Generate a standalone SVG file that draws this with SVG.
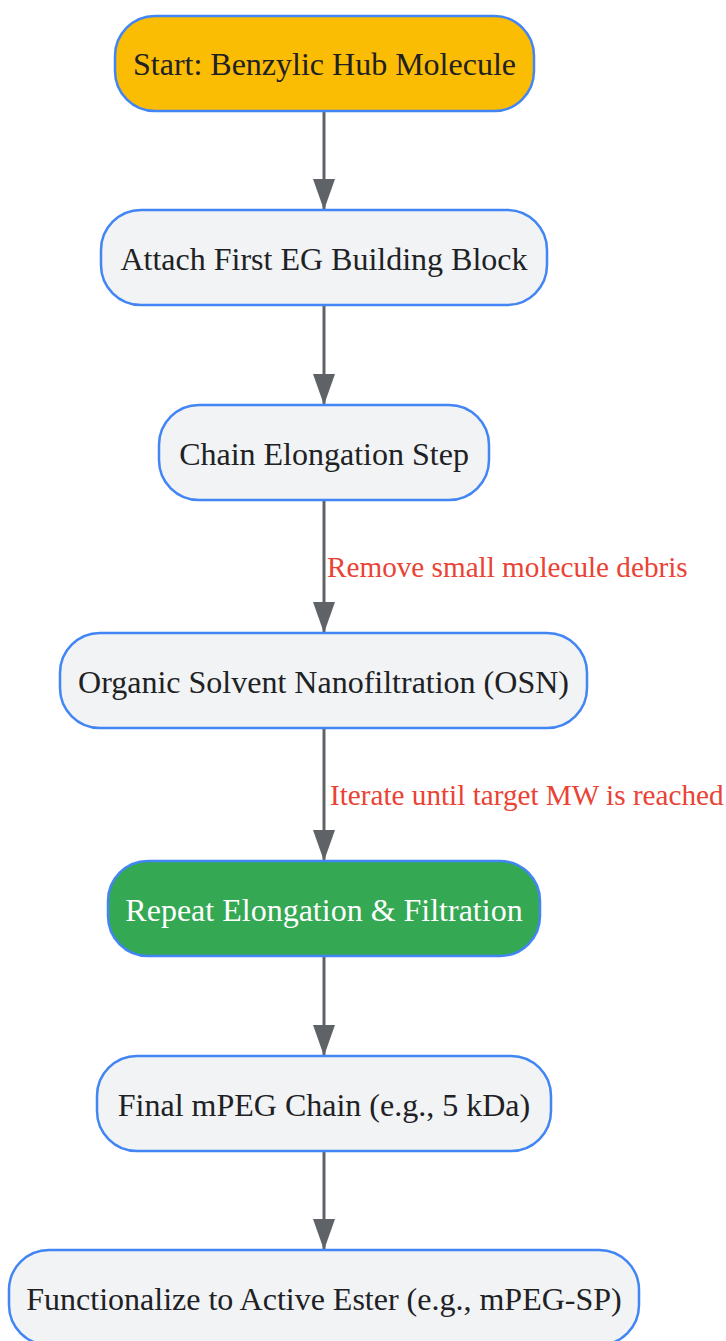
<svg xmlns="http://www.w3.org/2000/svg" width="726" height="1341" viewBox="0 0 726 1341">
<defs>
<style>
.n{stroke:#4285f4;stroke-width:2.5}
.t{font-family:"Liberation Serif",serif;font-size:32px;fill:#202124;text-anchor:middle}
.l{font-family:"Liberation Serif",serif;font-size:29.2px;fill:#ea4335}
.e{stroke:#5f6368;stroke-width:3;fill:none;marker-end:url(#ah)}
</style>
<marker id="ah" markerUnits="userSpaceOnUse" markerWidth="31" markerHeight="22" refX="31" refY="11" orient="auto" viewBox="0 0 31 22">
<path d="M0,0 L31,11 L0,22 Z" fill="#5f6368"/>
</marker>
</defs>
<rect width="726" height="1341" fill="#ffffff"/>
<g id="connectors">
<line class="e" x1="324" y1="111" x2="324" y2="210"/>
<line class="e" x1="324" y1="305" x2="324" y2="405"/>
<line class="e" x1="324" y1="500" x2="324" y2="633"/>
<line class="e" x1="324" y1="728" x2="324" y2="861"/>
<line class="e" x1="324" y1="956" x2="324" y2="1056"/>
<line class="e" x1="324" y1="1151" x2="324" y2="1250"/>
<text class="l" x="327" y="577">Remove small molecule debris</text>
<text class="l" x="330" y="805">Iterate until target MW is reached</text>
</g>
<g id="n1"><rect class="n" x="115" y="16" width="419" height="95" rx="40" fill="#fbbc04"/><text class="t" x="324.5" y="75">Start: Benzylic Hub Molecule</text></g>
<g id="n2"><rect class="n" x="101" y="210" width="446" height="95" rx="40" fill="#f1f3f4"/><text class="t" x="324" y="270">Attach First EG Building Block</text></g>
<g id="n3"><rect class="n" x="159" y="405" width="330" height="95" rx="40" fill="#f1f3f4"/><text class="t" x="324" y="465">Chain Elongation Step</text></g>
<g id="n4"><rect class="n" x="60" y="633" width="527" height="95" rx="40" fill="#f1f3f4"/><text class="t" x="323.5" y="693">Organic Solvent Nanofiltration (OSN)</text></g>
<g id="n5"><rect class="n" x="108" y="861" width="432" height="95" rx="40" fill="#34a853"/><text class="t" x="324" y="921" style="fill:#ffffff">Repeat Elongation &amp; Filtration</text></g>
<g id="n6"><rect class="n" x="97" y="1056" width="454" height="95" rx="40" fill="#f1f3f4"/><text class="t" x="324" y="1116">Final mPEG Chain (e.g., 5 kDa)</text></g>
<g id="n7"><rect class="n" x="9" y="1250" width="630" height="95" rx="40" fill="#f1f3f4"/><text class="t" x="324" y="1310">Functionalize to Active Ester (e.g., mPEG-SP)</text></g>
</svg>
